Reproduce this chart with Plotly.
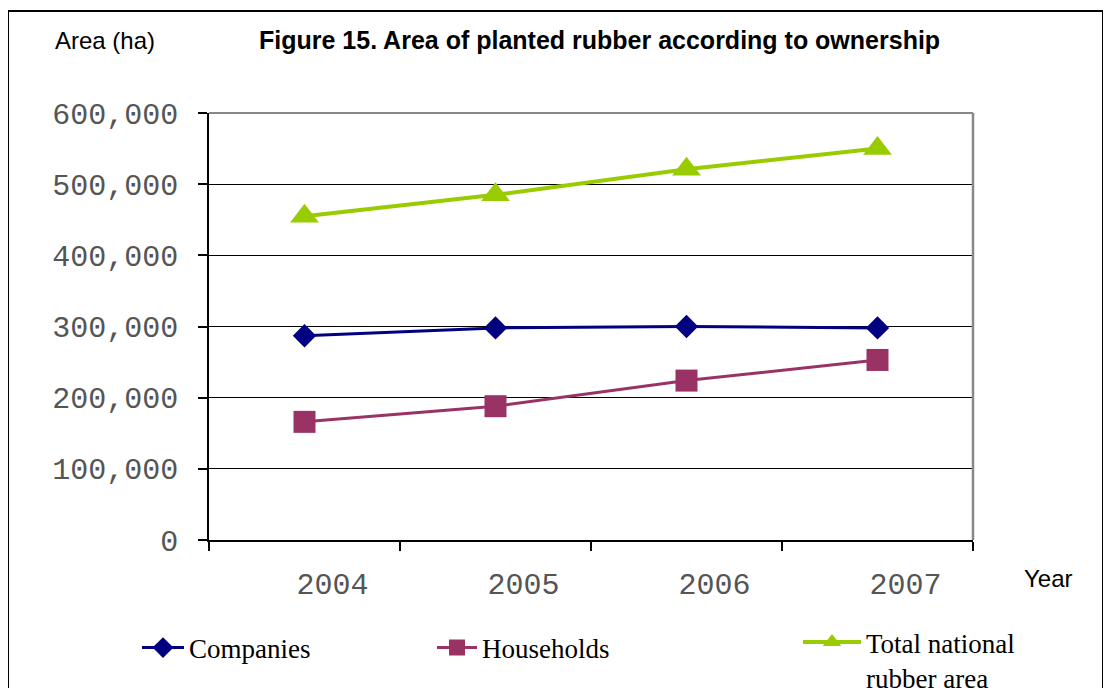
import plotly.graph_objects as go

years = ["2004", "2005", "2006", "2007"]
companies = [287000, 298000, 300000, 298000]
households = [166000, 188000, 224000, 253000]
total = [455000, 485000, 521000, 550000]
y_ticks = [0, 100000, 200000, 300000, 400000, 500000, 600000]
y_tick_text = ["0", "100,000", "200,000", "300,000", "400,000", "500,000", "600,000"]

# page body has an 8px default margin; lay out in window pixels and offset
OFF = 8
WIN_W, WIN_H = 1111, 688
W, H = WIN_W - OFF, WIN_H - OFF
PLOT_L, PLOT_R, PLOT_T, PLOT_B = 209, 973, 113, 540
ML, MT = PLOT_L - OFF, PLOT_T - OFF
MR, MB = W - (PLOT_R - OFF), H - (PLOT_B - OFF)
PW, PH = PLOT_R - PLOT_L, PLOT_B - PLOT_T


def px_x(x):
    return (x - PLOT_L) / PW


def px_y(y):
    return (PLOT_B - y) / PH


fig = go.Figure()
fig.add_trace(go.Scatter(
    x=years, y=companies, name="Companies", mode="lines+markers",
    line=dict(color="#000080", width=3),
    marker=dict(symbol="diamond", size=18, color="#000080"),
    legend="legend"))
fig.add_trace(go.Scatter(
    x=years, y=households, name="Households", mode="lines+markers",
    line=dict(color="#993366", width=3),
    marker=dict(symbol="square", size=22, color="#993366"),
    legend="legend2"))
fig.add_trace(go.Scatter(
    x=years, y=total, name="Total national<br>rubber area", mode="lines+markers",
    line=dict(color="#99CC00", width=4),
    marker=dict(symbol="triangle-up", size=25, color="#99CC00"),
    legend="legend3"))

legend_font = dict(family="Liberation Serif", size=27, color="#000")
fig.update_layout(
    width=W, height=H,
    margin=dict(l=ML, r=MR, t=MT, b=MB, autoexpand=False),
    paper_bgcolor="white", plot_bgcolor="white",
    showlegend=True,
    legend=dict(x=px_x(137), y=px_y(648), xanchor="left", yanchor="middle",
                font=legend_font, bgcolor="rgba(0,0,0,0)", itemwidth=42),
    legend2=dict(x=px_x(432), y=px_y(648), xanchor="left", yanchor="middle",
                 font=legend_font, bgcolor="rgba(0,0,0,0)", itemwidth=40),
    legend3=dict(x=px_x(798), y=px_y(618), xanchor="left", yanchor="top",
                 font=legend_font, bgcolor="rgba(0,0,0,0)", valign="top",
                 itemwidth=58),
    xaxis=dict(
        type="category", range=[-0.5, 3.5], tickson="boundaries",
        showgrid=False, showline=True, linecolor="#000", linewidth=1.5,
        ticks="outside", ticklen=9, tickcolor="#000", tickwidth=1.5,
        tickfont=dict(family="Liberation Mono", size=30, color="#555"),
        ticklabelshift=28, ticklabelstandoff=16, zeroline=False),
    yaxis=dict(
        range=[0, 600000], tickvals=y_ticks, ticktext=y_tick_text,
        showgrid=True, gridcolor="#000", gridwidth=1,
        showline=True, linecolor="#000", linewidth=1.5,
        ticks="outside", ticklen=9, tickcolor="#000", tickwidth=1.5,
        tickfont=dict(family="Liberation Mono", size=30, color="#555"),
        ticklabelstandoff=14, zeroline=False),
    shapes=[
        dict(type="line", xref="paper", yref="paper", x0=0, x1=1, y0=1, y1=1,
             line=dict(color="#888", width=2), layer="above"),
        dict(type="line", xref="paper", yref="paper", x0=1, x1=1, y0=0, y1=1,
             line=dict(color="#888", width=2.5), layer="above"),
        dict(type="rect", xref="paper", yref="paper",
             x0=px_x(8), x1=px_x(1103), y0=px_y(720), y1=px_y(11),
             line=dict(color="#000", width=2), fillcolor="rgba(0,0,0,0)"),
    ],
    annotations=[
        dict(text="<b>Figure 15. Area of planted rubber according to ownership</b>",
             x=px_x(599), y=px_y(40), xref="paper", yref="paper",
             xanchor="center", yanchor="middle", showarrow=False,
             font=dict(family="Liberation Sans", size=25, color="#000")),
        dict(text="Area (ha)", x=px_x(53), y=px_y(40), xref="paper", yref="paper",
             xanchor="left", yanchor="middle", showarrow=False,
             font=dict(family="Liberation Sans", size=24, color="#000")),
        dict(text="Year", x=px_x(1022), y=px_y(578), xref="paper", yref="paper",
             xanchor="left", yanchor="middle", showarrow=False,
             font=dict(family="Liberation Sans", size=24, color="#000")),
    ],
)

fig.write_html("out.html")
